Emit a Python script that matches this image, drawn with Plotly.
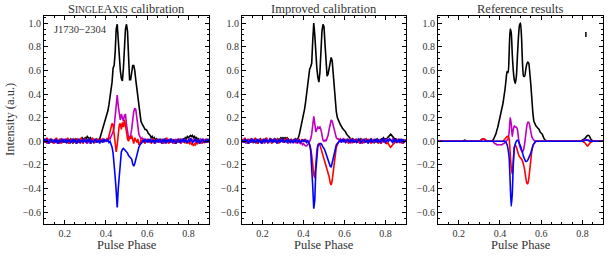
import numpy as np
import plotly.graph_objects as go

# ---------------- data ----------------
phase = np.round(np.arange(0.100, 0.9001, 0.005), 3)  # 161 bins

titles = ["S<span style='font-size:9.5px'>INGLE</span>A<span style='font-size:9.5px'>XIS</span> calibration",
          "Improved calibration", "Reference results"]
psr_name = "J1730\u22122304"
x_ticks = [0.2, 0.4, 0.6, 0.8]
y_ticks = [-0.6, -0.4, -0.2, 0.0, 0.2, 0.4, 0.6, 0.8, 1.0]

# Panel 1 : SingleAxis calibration
p1_I = [0.01, -0.01, 0.02, 0.00, -0.02, 0.01, 0.00, 0.02, -0.01, 0.01,
        -0.01, 0.02, 0.00, 0.01, -0.02, 0.01, 0.02, -0.01, 0.00, 0.01,
        0.00, -0.01, 0.02, 0.01, -0.01, 0.00, 0.02, 0.01, -0.02, 0.01,
        0.00, 0.02, 0.01, 0.00, -0.01, 0.02, 0.01, 0.03, 0.02, 0.01,
        0.03, 0.02, 0.04, 0.03, 0.02, 0.03, 0.01, 0.02, 0.00, 0.01,
        0.01, 0.02, 0.01, 0.00, 0.02, 0.05, 0.09, 0.11, 0.13, 0.16,
        0.19, 0.22, 0.26, 0.31, 0.37, 0.43, 0.50, 0.62, 0.64, 0.75,
        0.95, 0.99, 0.82, 0.68, 0.60, 0.53, 0.51, 0.62, 0.80, 0.95,
        0.99, 0.93, 0.72, 0.52, 0.52, 0.60, 0.64, 0.64, 0.60, 0.52,
        0.45, 0.36, 0.26, 0.20, 0.17, 0.15, 0.13, 0.11, 0.10, 0.10,
        0.09, 0.07, 0.06, 0.05, 0.03, 0.04, 0.02, 0.03, 0.01, 0.02,
        0.00, 0.01, -0.01, 0.02, 0.00, 0.01, -0.01, 0.00, 0.02, 0.01,
        -0.01, 0.01, 0.00, 0.02, -0.01, 0.00, 0.01, -0.02, 0.01, 0.00,
        0.01, -0.01, 0.02, 0.00, 0.01, 0.02, 0.01, 0.03, 0.02, 0.04,
        0.03, 0.04, 0.05, 0.04, 0.05, 0.03, 0.04, 0.02, 0.03, 0.01,
        0.02, 0.00, 0.01, -0.01, 0.02, 0.00, 0.01, -0.01, 0.01, 0.00,
        0.01]
p1_L = [-0.01, 0.02, 0.00, -0.02, 0.01, 0.02, -0.01, 0.00, 0.01, -0.02,
        0.01, 0.00, 0.02, -0.01, 0.01, -0.02, 0.00, 0.02, 0.01, -0.01,
        0.02, 0.00, -0.01, 0.01, 0.02, -0.02, 0.01, 0.00, 0.02, -0.01,
        0.01, -0.01, 0.00, 0.02, 0.01, -0.02, 0.00, 0.01, -0.01, 0.02,
        0.00, 0.01, -0.02, 0.01, 0.02, 0.00, -0.01, 0.01, 0.00, 0.02,
        -0.01, 0.01, 0.00, 0.02, -0.01, 0.01, 0.00, 0.02, 0.01, 0.00,
        0.01, 0.02, 0.01, 0.03, 0.02, 0.04, 0.05, 0.08, 0.12, 0.22,
        0.36, 0.39, 0.30, 0.21, 0.18, 0.23, 0.20, 0.17, 0.22, 0.23,
        0.14, 0.06, 0.03, 0.03, 0.05, 0.10, 0.18, 0.25, 0.28, 0.27,
        0.20, 0.12, 0.06, 0.04, 0.02, 0.03, 0.01, 0.02, 0.00, 0.01,
        0.02, -0.01, 0.01, 0.00, 0.02, -0.01, 0.01, 0.00, -0.02, 0.01,
        0.00, 0.02, -0.01, 0.01, 0.00, -0.02, 0.01, 0.02, 0.00, -0.01,
        0.01, 0.00, 0.02, -0.01, 0.01, -0.02, 0.00, 0.01, 0.02, -0.01,
        0.00, 0.01, -0.01, 0.02, 0.00, 0.01, -0.01, 0.02, 0.01, 0.00,
        0.01, 0.02, 0.01, 0.02, 0.01, 0.00, 0.02, -0.01, 0.01, 0.00,
        -0.01, 0.01, 0.02, 0.00, -0.01, 0.01, 0.00, 0.02, -0.01, 0.01,
        0.00]
p1_Q = [0.02, -0.01, 0.01, 0.03, -0.02, 0.00, 0.02, -0.01, 0.01, 0.00,
        -0.02, 0.01, 0.03, 0.00, -0.01, 0.02, 0.00, -0.02, 0.01, 0.02,
        -0.01, 0.01, 0.00, 0.03, -0.02, 0.01, 0.02, -0.01, 0.00, 0.02,
        0.01, -0.02, 0.02, 0.00, 0.01, -0.01, 0.03, 0.00, -0.02, 0.01,
        0.02, 0.00, -0.01, 0.02, 0.01, -0.02, 0.00, 0.03, 0.01, -0.01,
        0.00, 0.02, -0.01, 0.01, 0.00, 0.02, 0.01, -0.01, 0.02, 0.00,
        0.00, 0.02, 0.01, 0.04, 0.08, 0.12, 0.15, 0.14, 0.06, -0.05,
        -0.09, -0.03, 0.06, 0.14, 0.15, 0.10, 0.16, 0.12, 0.18, 0.14,
        0.08, 0.02, 0.00, 0.04, 0.02, 0.05, 0.00, -0.02, 0.03, 0.01,
        -0.01, 0.02, -0.03, -0.02, 0.01, -0.01, 0.02, 0.00, -0.02, 0.01,
        0.00, 0.02, -0.01, 0.01, -0.02, 0.00, 0.02, 0.01, -0.01, 0.00,
        0.02, -0.01, 0.00, 0.01, -0.02, 0.02, 0.00, -0.01, 0.01, 0.03,
        0.00, -0.02, 0.01, 0.00, 0.02, -0.01, 0.01, -0.02, 0.00, 0.01,
        -0.01, 0.02, 0.00, -0.02, 0.01, 0.00, -0.01, 0.01, -0.02, 0.00,
        -0.01, -0.02, 0.00, -0.03, -0.02, -0.04, -0.02, -0.03, -0.01, -0.02,
        0.00, -0.01, 0.01, -0.02, 0.00, 0.01, -0.01, 0.00, 0.02, -0.01,
        0.00]
p1_V = [0.00, 0.02, -0.01, 0.01, 0.00, -0.02, 0.01, 0.02, -0.01, 0.00,
        0.01, -0.01, 0.02, -0.02, 0.00, 0.01, -0.01, 0.01, 0.02, -0.01,
        0.00, 0.02, -0.02, 0.01, 0.00, 0.01, -0.01, 0.00, 0.02, -0.01,
        0.01, 0.00, -0.02, 0.01, 0.02, -0.01, 0.00, 0.01, -0.01, 0.02,
        0.00, -0.01, 0.01, 0.00, 0.02, -0.02, 0.01, 0.00, -0.01, 0.01,
        0.02, -0.01, 0.00, 0.01, -0.02, 0.01, 0.00, -0.01, 0.02, 0.00,
        0.01, 0.00, 0.01, -0.01, 0.00, -0.02, -0.05, -0.10, -0.18, -0.30,
        -0.42, -0.56, -0.40, -0.28, -0.15, -0.09, -0.07, -0.06, -0.07, -0.08,
        -0.09, -0.10, -0.12, -0.13, -0.14, -0.15, -0.19, -0.21, -0.19, -0.15,
        -0.12, -0.08, -0.05, -0.03, -0.02, -0.01, 0.01, -0.01, 0.02, 0.00,
        -0.01, 0.01, 0.00, 0.02, -0.01, 0.00, 0.01, -0.02, 0.01, 0.00,
        0.01, -0.01, 0.02, 0.00, -0.01, 0.01, 0.00, 0.02, -0.02, 0.01,
        0.00, 0.01, -0.01, 0.02, 0.00, -0.01, 0.01, 0.00, -0.02, 0.01,
        0.02, 0.00, -0.01, 0.01, 0.00, 0.02, -0.01, 0.01, 0.00, -0.01,
        0.01, 0.00, 0.02, 0.01, -0.01, 0.00, 0.01, 0.02, -0.01, 0.00,
        0.01, -0.02, 0.00, 0.01, 0.02, -0.01, 0.00, 0.01, -0.01, 0.02,
        0.00]

# Panel 2 : Improved calibration
p2_I = [0.00, 0.01, -0.01, 0.02, 0.00, 0.01, -0.02, 0.01, 0.00, 0.02,
        0.01, -0.01, 0.00, 0.02, 0.01, 0.00, -0.01, 0.01, 0.02, 0.00,
        -0.01, 0.01, 0.00, 0.02, 0.01, -0.01, 0.00, 0.01, 0.02, 0.00,
        0.01, 0.00, 0.02, 0.01, 0.00, 0.02, 0.01, 0.02, 0.03, 0.02,
        0.03, 0.02, 0.03, 0.02, 0.03, 0.02, 0.01, 0.00, 0.01, 0.00,
        0.01, 0.00, 0.02, 0.01, 0.02, 0.03, 0.06, 0.10, 0.14, 0.18,
        0.22, 0.27, 0.33, 0.40, 0.49, 0.55, 0.61, 0.63, 0.66, 0.85,
        1.00, 0.90, 0.74, 0.62, 0.54, 0.50, 0.58, 0.78, 0.93, 0.99,
        0.97, 0.82, 0.62, 0.55, 0.57, 0.63, 0.68, 0.71, 0.68, 0.56,
        0.44, 0.33, 0.25, 0.20, 0.17, 0.16, 0.14, 0.12, 0.11, 0.10,
        0.09, 0.08, 0.06, 0.05, 0.04, 0.03, 0.02, 0.01, 0.02, 0.00,
        0.01, 0.00, 0.02, -0.01, 0.01, 0.00, 0.02, 0.01, -0.01, 0.00,
        0.01, 0.02, 0.00, -0.01, 0.01, 0.00, 0.02, 0.01, 0.00, -0.01,
        0.01, 0.00, 0.02, 0.01, 0.00, 0.01, 0.02, 0.01, 0.03, 0.02,
        0.02, 0.02, 0.03, 0.04, 0.05, 0.06, 0.05, 0.04, 0.03, 0.02,
        0.02, 0.01, 0.00, 0.02, 0.00, 0.01, -0.01, 0.01, 0.00, 0.01,
        0.00]
p2_L = [0.01, -0.01, 0.02, 0.00, -0.02, 0.01, 0.00, 0.02, -0.01, 0.01,
        0.00, 0.02, -0.01, 0.00, 0.01, -0.02, 0.01, 0.00, 0.02, -0.01,
        0.01, 0.00, -0.02, 0.01, 0.02, 0.00, -0.01, 0.01, 0.00, 0.02,
        -0.01, 0.01, 0.00, 0.02, -0.01, 0.01, 0.00, -0.01, 0.02, 0.01,
        0.00, 0.01, -0.01, 0.02, 0.00, -0.02, 0.01, 0.00, 0.01, -0.01,
        0.00, 0.01, -0.01, 0.00, -0.02, 0.00, -0.01, -0.02, -0.01, -0.03,
        -0.02, -0.03, -0.04, -0.04, -0.03, -0.02, 0.00, 0.02, 0.06, 0.15,
        0.21, 0.15, 0.08, 0.10, 0.12, 0.11, 0.12, 0.10, 0.05, 0.01,
        0.00, 0.01, 0.00, 0.02, 0.05, 0.10, 0.15, 0.18, 0.17, 0.13,
        0.08, 0.05, 0.03, 0.02, 0.02, 0.01, 0.02, 0.00, 0.01, 0.02,
        0.00, 0.01, -0.01, 0.02, 0.00, 0.01, -0.02, 0.01, 0.00, 0.02,
        -0.01, 0.00, 0.01, -0.01, 0.02, 0.00, 0.01, -0.02, 0.00, 0.01,
        0.02, -0.01, 0.00, 0.01, -0.01, 0.02, 0.00, 0.01, -0.01, 0.00,
        0.01, 0.00, 0.02, -0.01, 0.01, 0.00, -0.02, 0.01, 0.00, 0.02,
        0.00, 0.01, 0.02, 0.01, 0.02, 0.01, 0.00, 0.02, 0.01, -0.01,
        0.00, 0.02, -0.01, 0.01, 0.00, 0.01, -0.02, 0.00, 0.01, 0.00,
        0.01]
p2_Q = [-0.01, 0.02, 0.00, 0.03, -0.01, 0.01, 0.02, -0.02, 0.01, 0.00,
        0.02, -0.01, 0.01, 0.03, 0.00, -0.02, 0.01, 0.02, -0.01, 0.01,
        0.00, 0.02, -0.01, 0.01, 0.03, -0.01, 0.00, 0.02, 0.01, -0.02,
        0.01, 0.02, 0.00, -0.01, 0.02, 0.01, -0.02, 0.02, 0.00, 0.01,
        -0.01, 0.02, 0.01, 0.00, 0.03, -0.01, 0.01, 0.00, 0.02, -0.01,
        0.01, 0.00, 0.02, -0.01, 0.01, 0.02, 0.00, -0.01, 0.01, 0.00,
        0.01, 0.00, 0.02, -0.01, 0.00, -0.01, -0.03, -0.06, -0.12, -0.21,
        -0.28, -0.31, -0.18, -0.08, -0.03, -0.02, -0.03, -0.06, -0.09, -0.12,
        -0.14, -0.16, -0.19, -0.22, -0.25, -0.30, -0.35, -0.37, -0.33, -0.25,
        -0.17, -0.10, -0.05, -0.03, -0.01, 0.00, 0.02, -0.01, 0.01, 0.00,
        0.02, -0.01, 0.01, 0.00, -0.02, 0.01, 0.02, 0.00, -0.01, 0.01,
        0.00, 0.02, -0.01, 0.01, 0.00, -0.02, 0.01, 0.02, 0.00, -0.01,
        0.01, 0.00, 0.02, -0.01, 0.01, 0.00, -0.02, 0.01, 0.00, 0.02,
        -0.01, 0.01, 0.00, -0.02, 0.01, 0.00, -0.01, 0.01, 0.00, -0.01,
        -0.01, -0.02, -0.01, -0.03, -0.04, -0.05, -0.04, -0.03, -0.02, -0.01,
        0.00, -0.01, 0.01, 0.00, -0.01, 0.01, 0.00, -0.02, 0.01, 0.00,
        0.00]
p2_V = [0.01, 0.00, -0.01, 0.02, 0.00, 0.01, -0.02, 0.00, 0.01, -0.01,
        0.02, 0.00, 0.01, -0.01, 0.00, 0.02, -0.01, 0.01, 0.00, -0.02,
        0.01, 0.00, 0.02, -0.01, 0.01, 0.00, -0.01, 0.02, 0.00, 0.01,
        -0.01, 0.01, 0.00, 0.02, -0.02, 0.00, 0.01, -0.01, 0.01, 0.00,
        0.02, -0.01, 0.00, 0.01, -0.01, 0.02, 0.00, -0.01, 0.01, 0.00,
        -0.01, 0.01, 0.00, 0.02, -0.01, 0.00, 0.01, -0.01, 0.00, 0.01,
        0.00, 0.01, 0.00, -0.01, 0.01, -0.01, -0.03, -0.08, -0.20, -0.38,
        -0.57, -0.50, -0.25, -0.10, -0.04, -0.03, -0.02, -0.02, -0.03, -0.05,
        -0.06, -0.08, -0.11, -0.14, -0.16, -0.19, -0.21, -0.22, -0.18, -0.14,
        -0.10, -0.06, -0.03, -0.02, -0.01, 0.00, 0.01, -0.01, 0.02, 0.00,
        0.01, -0.01, 0.00, 0.02, 0.00, -0.01, 0.01, 0.00, 0.02, -0.01,
        0.00, 0.01, -0.01, 0.00, 0.02, 0.01, -0.01, 0.00, 0.01, 0.02,
        -0.01, 0.00, 0.01, -0.02, 0.01, 0.00, 0.02, -0.01, 0.00, 0.01,
        0.00, 0.02, -0.01, 0.01, 0.00, -0.01, 0.01, 0.02, 0.00, 0.01,
        -0.01, 0.00, 0.01, 0.00, 0.02, 0.01, 0.00, -0.01, 0.01, 0.00,
        0.02, -0.01, 0.00, 0.01, -0.01, 0.02, 0.00, 0.01, -0.01, 0.00,
        0.01]

# Panel 3 : Reference results
p3_I = [0, 0, 0, 0, 0, 0, 0, 0, 0, 0,
        0, 0, 0, 0, 0, 0, 0, 0, 0, 0,
        0, 0, 0, 0, 0, 0.005, 0.01, 0.005, 0, 0,
        0, 0, 0, 0, 0, 0, 0, 0, 0, 0,
        0.0, 0.005, 0.01, 0.02, 0.02, 0.015, 0.01, 0.005, 0.0, 0.0,
        0, 0, 0, 0.005, 0.02, 0.04, 0.06, 0.09, 0.12, 0.16,
        0.20, 0.24, 0.28, 0.32, 0.38, 0.44, 0.52, 0.59, 0.58, 0.75,
        0.95, 0.92, 0.74, 0.60, 0.52, 0.49, 0.55, 0.72, 0.88, 0.98,
        1.00, 0.88, 0.65, 0.55, 0.55, 0.60, 0.65, 0.67, 0.66, 0.58,
        0.48, 0.36, 0.24, 0.17, 0.15, 0.13, 0.12, 0.11, 0.10, 0.08,
        0.07, 0.06, 0.04, 0.02, 0.01, 0.005, 0, 0, 0, 0,
        0, 0, 0, 0, 0, 0, 0, 0, 0, 0,
        0, 0, 0, 0, 0, 0, 0, 0, 0, 0,
        0, 0, 0, 0, 0, 0, 0, 0, 0, 0.005,
        0.01, 0.015, 0.02, 0.03, 0.04, 0.05, 0.05, 0.04, 0.02, 0.01,
        0.005, 0, 0, 0, 0, 0, 0, 0, 0, 0,
        0]
p3_L = [0, 0, 0, 0, 0, 0, 0, 0, 0, 0,
        0, 0, 0, 0, 0, 0, 0, 0, 0, 0,
        0, 0, 0, 0, 0, 0, 0, 0, 0, 0,
        0, 0, 0, 0, 0, 0, 0, 0, 0, 0,
        0.0, 0.005, 0.01, 0.02, 0.02, 0.02, 0.01, 0.005, 0.0, 0.0,
        0, 0, 0, 0, -0.01, -0.02, -0.02, -0.03, -0.03, -0.03,
        -0.03, -0.03, -0.03, -0.02, -0.02, -0.01, 0.00, 0.01, 0.02, 0.08,
        0.20, 0.15, 0.04, 0.10, 0.13, 0.12, 0.12, 0.10, 0.03, -0.03,
        -0.06, -0.08, -0.09, -0.07, -0.02, 0.05, 0.12, 0.16, 0.16, 0.13,
        0.08, 0.04, 0.02, 0.01, 0, 0, 0, 0, 0, 0,
        0, 0, 0, 0, 0, 0, 0, 0, 0, 0,
        0, 0, 0, 0, 0, 0, 0, 0, 0, 0,
        0, 0, 0, 0, 0, 0, 0, 0, 0, 0,
        0, 0, 0, 0, 0, 0, 0, 0, 0, 0,
        0, 0.005, 0.01, 0.01, 0.015, 0.01, 0.01, 0.005, 0, 0,
        0, 0, 0, 0, 0, 0, 0, 0, 0, 0,
        0]
p3_Q = [0, 0, 0, 0, 0, 0, 0, 0, 0, 0,
        0, 0, 0, 0, 0, 0, 0, 0, 0, 0,
        0, 0, 0, 0, 0, 0, 0, 0, 0, 0,
        0, 0, 0, 0, 0, 0, 0, 0, 0, 0,
        0.0, 0.005, 0.01, 0.015, 0.02, 0.015, 0.01, 0.005, 0, 0,
        0, 0, 0, 0, 0, 0, 0, 0, 0, 0,
        0, 0, 0, 0, 0.01, 0.02, 0.03, 0.04, 0.04, 0.02,
        -0.10, -0.22, -0.28, -0.17, -0.05, -0.03, -0.05, -0.08, -0.11, -0.13,
        -0.14, -0.15, -0.17, -0.20, -0.24, -0.30, -0.35, -0.36, -0.32, -0.24,
        -0.16, -0.08, -0.04, -0.02, -0.01, 0, 0, 0, 0, 0,
        0, 0, 0, 0, 0, 0, 0, 0, 0, 0,
        0, 0, 0, 0, 0, 0, 0, 0, 0, 0,
        0, 0, 0, 0, 0, 0, 0, 0, 0, 0,
        0, 0, 0, 0, 0, 0, 0, 0, 0, 0,
        0, -0.005, -0.01, -0.02, -0.03, -0.04, -0.03, -0.02, -0.01, -0.005,
        0, 0, 0, 0, 0, 0, 0, 0, 0, 0,
        0]
p3_V = [0, 0, 0, 0, 0, 0, 0, 0, 0, 0,
        0, 0, 0, 0, 0, 0, 0, 0, 0, 0,
        0, 0, 0, 0, 0, 0, 0, 0, 0, 0,
        0, 0, 0, 0, 0, 0, 0, 0, 0, 0,
        0, 0, 0, 0, 0, 0, 0, 0, 0, 0,
        0, 0, 0, 0, 0, 0, 0, 0, 0, 0,
        0, 0, 0, 0, 0, 0, -0.01, -0.03, -0.07, -0.14,
        -0.35, -0.55, -0.45, -0.20, -0.06, -0.02, 0.00, 0.01, 0.00, -0.02,
        -0.04, -0.07, -0.10, -0.13, -0.15, -0.17, -0.17, -0.16, -0.14, -0.12,
        -0.10, -0.07, -0.04, -0.02, -0.01, 0, 0, 0, 0, 0,
        0, 0, 0, 0, 0, 0, 0, 0, 0, 0,
        0, 0, 0, 0, 0, 0, 0, 0, 0, 0,
        0, 0, 0, 0, 0, 0, 0, 0, 0, 0,
        0, 0, 0, 0, 0, 0, 0, 0, 0, 0,
        0, 0, 0.005, 0.01, 0.01, 0.01, 0.005, 0, 0, 0,
        0, 0, 0, 0, 0, 0, 0, 0, 0, 0,
        0]

# small vertical error marker in panel 3
err_x = [0.817, 0.817]
err_y = [0.882, 0.925]

panels = [
    (p1_I, p1_L, p1_Q, p1_V),
    (p2_I, p2_L, p2_Q, p2_V),
    (p3_I, p3_L, p3_Q, p3_V),
]
for p in panels:
    for s in p:
        assert len(s) == len(phase), (len(s), len(phase))

# ---------------- style ----------------
SERIF = "Liberation Serif, DejaVu Serif, serif"
colors = ["#000000", "#bf00bf", "#ff0000", "#0000ff"]
W, H = 610, 256
x_dom = [(44 / W, 209 / W), (242 / W, 406 / W), (438 / W, 603 / W)]
y_dom = (1 - 224 / H, 1 - 16 / H)

fig = go.Figure()
for k, p in enumerate(panels):
    xa = "x" if k == 0 else f"x{k+1}"
    ya = "y" if k == 0 else f"y{k+1}"
    for s, c in zip(p, colors):
        fig.add_trace(go.Scatter(
            x=phase, y=s, mode="lines", xaxis=xa, yaxis=ya,
            line=dict(color=c, width=1.6, shape="spline" if k == 2 else "linear",
                      smoothing=0.6),
            showlegend=False, hoverinfo="skip"))

fig.add_trace(go.Scatter(x=err_x, y=err_y, mode="lines", xaxis="x3", yaxis="y3",
                         line=dict(color="black", width=1.5), showlegend=False,
                         hoverinfo="skip"))

layout = dict(
    width=W, height=H,
    margin=dict(l=0, r=0, t=0, b=0),
    paper_bgcolor="white", plot_bgcolor="white",
    font=dict(family=SERIF, size=10, color="black"),
    annotations=[],
)

for k in range(3):
    xs = "xaxis" if k == 0 else f"xaxis{k+1}"
    ys = "yaxis" if k == 0 else f"yaxis{k+1}"
    yref = "y" if k == 0 else f"y{k+1}"
    xref = "x" if k == 0 else f"x{k+1}"
    layout[xs] = dict(
        domain=list(x_dom[k]), anchor=yref, range=[0.1, 0.9],
        tickvals=x_ticks, ticktext=[f"{v:.1f}" for v in x_ticks],
        ticks="inside", ticklen=4, tickwidth=1, tickcolor="black",
        showline=True, linecolor="black", linewidth=1, mirror="allticks",
        showgrid=False, zeroline=False,
        tickfont=dict(family=SERIF, size=10, color="#333333"),
        minor=dict(dtick=0.05, tick0=0.0, ticks="inside", ticklen=2,
                   tickcolor="black", tickwidth=1, showgrid=False),
    )
    layout[ys] = dict(
        domain=list(y_dom), anchor=xref, range=[-0.7, 1.06],
        tickvals=y_ticks, ticktext=[f"{v:.1f}".replace("-", "\u2212") for v in y_ticks],
        ticks="inside", ticklen=4, tickwidth=1, tickcolor="black",
        showline=True, linecolor="black", linewidth=1, mirror="allticks",
        showgrid=False, zeroline=False,
        tickfont=dict(family=SERIF, size=10, color="#333333"),
        minor=dict(dtick=0.05, tick0=0.0, ticks="inside", ticklen=2,
                   tickcolor="black", tickwidth=1, showgrid=False),
    )
    cx = (x_dom[k][0] + x_dom[k][1]) / 2
    layout["annotations"].append(dict(
        text=titles[k], x=cx, y=1 - 9 / H, xref="paper", yref="paper",
        xanchor="center", yanchor="middle", showarrow=False,
        font=dict(family=SERIF, size=12.5, color="#333333")))
    layout["annotations"].append(dict(
        text="Pulse Phase", x=cx, y=1 - 245 / H, xref="paper", yref="paper",
        xanchor="center", yanchor="middle", showarrow=False,
        font=dict(family=SERIF, size=12.5, color="#333333")))

layout["annotations"].append(dict(
    text="Intensity (a.u.)", x=10 / W, y=1 - 120 / H, xref="paper", yref="paper",
    xanchor="center", yanchor="middle", textangle=-90, showarrow=False,
    font=dict(family=SERIF, size=12.5, color="#333333")))
layout["annotations"].append(dict(
    text=psr_name, x=0.14, y=0.947, xref="x", yref="y",
    xanchor="left", yanchor="middle", showarrow=False,
    font=dict(family=SERIF, size=10.5, color="#333333")))

fig.update_layout(**layout)
fig.write_html("out.html",
               config={"displayModeBar": False, "staticPlot": True},
               post_script="document.body.style.margin='0';document.body.style.overflow='hidden';")
